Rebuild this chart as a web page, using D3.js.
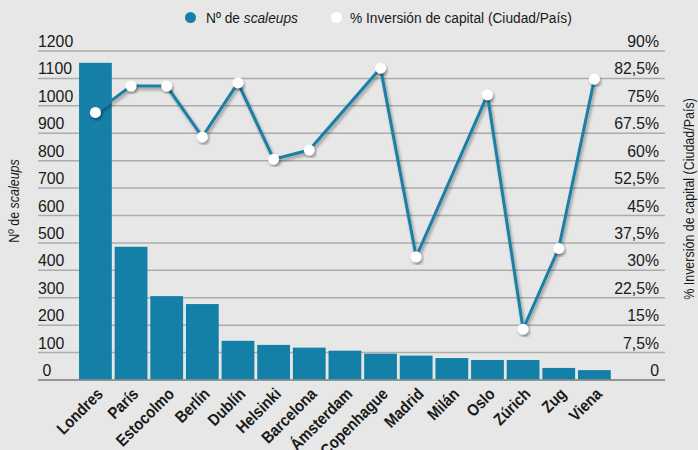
<!DOCTYPE html>
<html><head><meta charset="utf-8">
<script src="https://cdn.jsdelivr.net/npm/d3@7"></script>
<style>
html,body{margin:0;padding:0;background:#e6e7e6;}
svg{display:block;}
text{font-family:"Liberation Sans",Arial,sans-serif;fill:#1a1a1a;}
</style></head>
<body>
<svg id="chart" width="698" height="450"></svg>
<script>
const cities = ["Londres","París","Estocolmo","Berlín","Dublín","Helsinki","Barcelona","Ámsterdam","Copenhague","Madrid","Milán","Oslo","Zúrich","Zug","Viena"];
const scaleups = [1157,486,306,277,143,128,118,107,96,89,80,73,73,44,36];
const inversion = [73.2,80.4,80.4,66.5,81.3,60.4,62.9,null,85.3,33.7,null,78.0,13.9,36.0,82.3];
const leftTicks = [0,100,200,300,400,500,600,700,800,900,1000,1100,1200];
const rightTickValues = [0,7.5,15,22.5,30,37.5,45,52.5,60,67.5,75,82.5,90];
const rightTickLabels = ["0","7,5%","15%","22,5%","30%","37,5%","45%","52,5%","60%","67.5%","75%","82,5%","90%"];

const svg = d3.select("#chart");
const W = 698, H = 450;
svg.append("rect").attr("width", W).attr("height", H).attr("fill", "#e6e7e6");

const defs = svg.append("defs");
const f = defs.append("filter").attr("id","shadow").attr("x","-20%").attr("y","-20%").attr("width","140%").attr("height","140%");
f.append("feDropShadow").attr("dx",1.5).attr("dy",2.5).attr("stdDeviation",1.5).attr("flood-color","#000").attr("flood-opacity",0.35);

const gridX0 = 38, gridX1 = 665;
const y = d3.scaleLinear().domain([0,1200]).range([380,51]);
const y2 = d3.scaleLinear().domain([0,90]).range([380,51]);
const x = d3.scaleBand().domain(cities).range([77.6,612.2]).paddingInner(0.08).paddingOuter(0.04);

// gridlines
svg.append("g").selectAll("line").data(leftTicks).join("line")
  .attr("x1",gridX0).attr("x2",gridX1)
  .attr("y1",d=>y(d)).attr("y2",d=>y(d))
  .attr("stroke",d=>d===0?"#8f908f":"#abacab").attr("stroke-width",1.5);

// left tick labels
svg.append("g").selectAll("text").data(leftTicks).join("text")
  .attr("transform",d=>`translate(${d===0?42.5:gridX0},${y(d)-4}) scale(0.96,1)`)
  .attr("font-size",16.5)
  .text(d=>String(d));

// right tick labels
svg.append("g").selectAll("text").data(rightTickValues).join("text")
  .attr("transform",d=>`translate(659,${y2(d)-4}) scale(0.96,1)`)
  .attr("text-anchor","end")
  .attr("font-size",16.5)
  .text((d,i)=>rightTickLabels[i]);

// bars
svg.append("g").selectAll("rect").data(cities).join("rect")
  .attr("x",d=>x(d)).attr("width",x.bandwidth())
  .attr("y",(d,i)=>y(scaleups[i])).attr("height",(d,i)=>y(0)-y(scaleups[i]))
  .attr("fill","#1580a7");

// baseline on top
svg.append("line").attr("x1",gridX0).attr("x2",gridX1).attr("y1",y(0)).attr("y2",y(0))
  .attr("stroke","#8f908f").attr("stroke-width",1.5);

// line
const pts = cities.map((c,i)=>({c, v:inversion[i]})).filter(d=>d.v!==null);
const line = d3.line().x(d=>x(d.c)+x.bandwidth()/2).y(d=>y2(d.v));
svg.append("path").datum(pts).attr("d",line).attr("fill","none")
  .attr("stroke","#1a7fa5").attr("stroke-width",3).attr("stroke-linejoin","miter")
  .attr("filter","url(#shadow)");
svg.append("g").selectAll("circle").data(pts).join("circle")
  .attr("cx",d=>x(d.c)+x.bandwidth()/2).attr("cy",d=>y2(d.v)).attr("r",5.5)
  .attr("fill","#ffffff").attr("filter","url(#shadow)");

// x labels
svg.append("g").selectAll("text").data(cities).join("text")
  .attr("transform",d=>`translate(${x(d)+x.bandwidth()/2+8.5},395) rotate(-45) scale(0.88,1)`)
  .attr("text-anchor","end").attr("font-weight","bold").attr("font-size",16.5)
  .text(d=>d);

// axis titles
const lt = svg.append("text").attr("transform","translate(19,201) rotate(-90) scale(0.86,1)")
  .attr("text-anchor","middle").attr("font-size",14.5);
lt.append("tspan").text("Nº de ");
lt.append("tspan").attr("font-style","italic").text("scaleups");

svg.append("text").attr("transform","translate(694,199) rotate(-90) scale(0.86,1)")
  .attr("text-anchor","middle").attr("font-size",14.5)
  .text("% Inversión de capital (Ciudad/País)");

// legend
svg.append("circle").attr("cx",190.5).attr("cy",17.5).attr("r",5.5).attr("fill","#1580a7");
const l1 = svg.append("text").attr("transform","translate(206,23) scale(0.885,1)").attr("font-size",15.5);
l1.append("tspan").text("Nº de ");
l1.append("tspan").attr("font-style","italic").text("scaleups");
svg.append("circle").attr("cx",336.5).attr("cy",17.5).attr("r",5.5).attr("fill","#ffffff");
svg.append("text").attr("transform","translate(350,23) scale(0.885,1)").attr("font-size",15.5)
  .text("% Inversión de capital (Ciudad/País)");
</script>
</body></html>
